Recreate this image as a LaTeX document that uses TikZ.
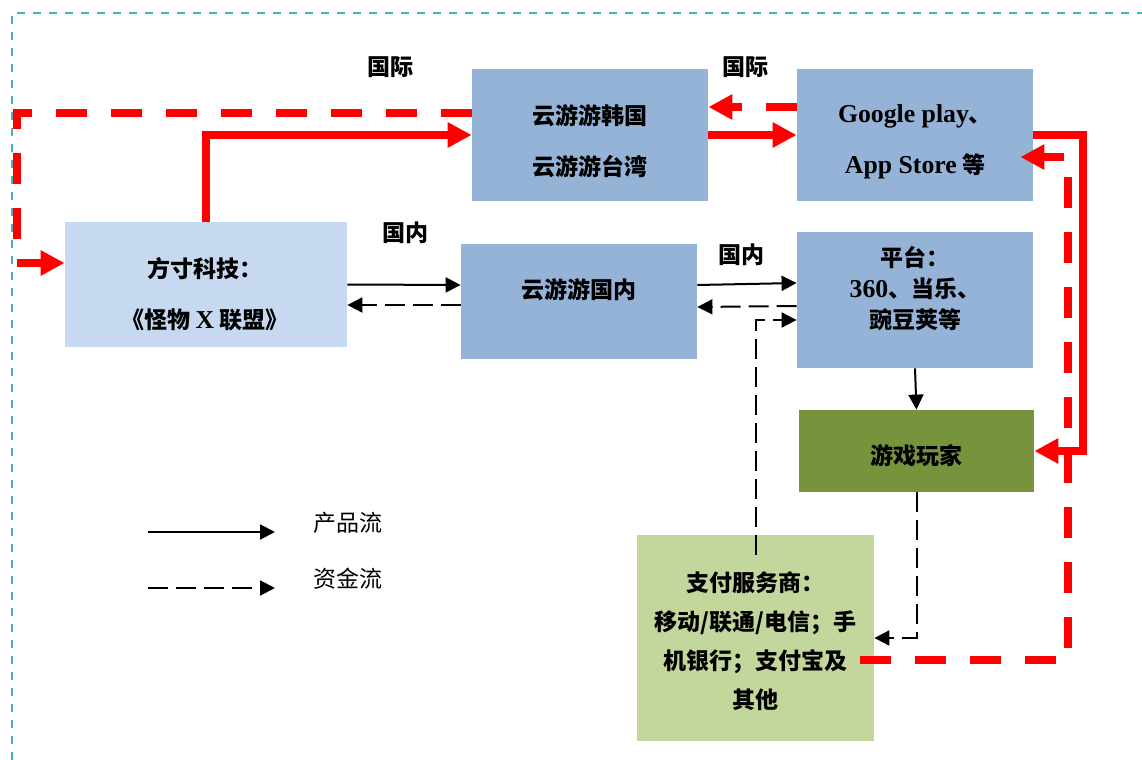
\documentclass[tikz,border=0pt]{standalone}
\usepackage{fontspec}
\setmainfont{Liberation Serif}
\newfontfamily\cjk{Noto Sans CJK SC}
\newfontfamily\latf{Liberation Serif}[Scale=1.12]
\usetikzlibrary{arrows.meta}
\definecolor{ltblue}{HTML}{C6D9F1}
\definecolor{blbox}{HTML}{95B3D7}
\definecolor{grbox}{HTML}{77933C}
\definecolor{ltgreen}{HTML}{C3D69B}
\definecolor{frame}{HTML}{4BACC6}
\newcommand\lat[1]{{\latf #1}}
\begin{document}
\begin{tikzpicture}[x=0.5pt,y=-0.5pt,
  box/.style={inner sep=0pt,draw=none},
  txt/.style={align=center,font=\cjk\bfseries\fontsize{11.5}{25.5}\selectfont},
  legtxt/.style={font=\cjk\fontsize{11.5}{14}\selectfont},
  prod/.style={line width=1pt,-{Triangle[length=7.5pt,width=7.5pt]}},
  money/.style={prod,dash pattern=on 10pt off 4pt},
  rprod/.style={red,line width=4pt,-{Triangle[length=12pt,width=12pt]}},
  rmoney/.style={rprod,dash pattern=on 15.5pt off 12pt},
  border/.style={frame,line width=1pt,dash pattern=on 4pt off 4pt}]
\useasboundingbox (0,0) rectangle (1142,760);
\draw[border] (12,760) -- (12,13) -- (1142,13);
% boxes
\node[box,fill=ltblue,minimum width=141pt,minimum height=62.5pt] (fc) at (206,284.5) {};
\node[box,fill=blbox,minimum width=118pt,minimum height=66pt] (kr) at (590,135) {};
\node[box,fill=blbox,minimum width=118pt,minimum height=66pt] (gp) at (915,135) {};
\node[box,fill=blbox,minimum width=118pt,minimum height=57.5pt] (gn) at (579,301.5) {};
\node[box,fill=blbox,minimum width=118pt,minimum height=68pt] (pt) at (915,300) {};
\node[box,fill=grbox,minimum width=117.5pt,minimum height=41pt] (pl) at (916.5,451) {};
\node[box,fill=ltgreen,minimum width=118.5pt,minimum height=103pt] (pay) at (755.5,638) {};
% texts
\node[txt] (fct) at (205,294) {方寸科技：\\《怪物 \lat{X} 联盟》};
\node[txt] (krt) at (590,141) {云游游韩国\\云游游台湾};
\node[txt] (gpt) at (915,142) {\lat{Google play}、\\\lat{App Store} 等};
\node[txt] (gnt) at (579,290) {云游游国内};
\node[txt,font=\cjk\bfseries\fontsize{11.5}{15.5}\selectfont] (ptt) at (915,289) {平台：\\\lat{360}、当乐、\\豌豆荚等};
\node[txt] (plt) at (916.5,456) {游戏玩家};
\node[txt,font=\cjk\bfseries\fontsize{11.5}{19.5}\selectfont] (payt) at (755.5,641) {支付服务商：\\移动/联通/电信；手\\机银行；支付宝及\\其他};
\node[txt] (l1) at (390,67) {国际};
\node[txt] (l2) at (745,67) {国际};
\node[txt] (l3) at (405,233) {国内};
\node[txt] (l4) at (741,255) {国内};
% red flows
\coordinate (lc) at (17,263);
\coordinate (rc) at (1068,157);
\draw[rprod] (fc.north) |- (kr.west);
\draw[rprod] (kr.east) -- (gp.west);
\draw[rprod] (gp.east) -- ++(25pt,0) |- (pl.east);
\draw[rmoney] ([yshift=14pt]gp.west) -- ([yshift=14pt]kr.east);
\draw[rmoney] ([yshift=11pt]kr.west) -| (lc) -- ([yshift=10.75pt]fc.west);
\draw[rmoney] ([xshift=-7pt,yshift=-11pt]pay.east) -| (rc) -- ([xshift=-6.5pt,yshift=-11pt]gp.east);
% black flows
\draw[prod] (fc.east) -- ([yshift=8.25pt]gn.west);
\draw[money] ([yshift=-1.75pt]gn.west) -- ([yshift=-10.25pt]fc.east);
\draw[prod] ([yshift=8.25pt]gn.east) -- ([yshift=8.5pt]pt.west);
\draw[money] ([yshift=-3pt]pt.west) -- ([yshift=-2.75pt]gn.east);
\draw[money] ([yshift=-10pt]pay.north) |- ([yshift=-10pt]pt.west);
\draw[prod] (pt.south) -- (pl.north);
\draw[money] (pl.south) |- (pay.east);
% legend
\foreach \y/\s/\t [count=\i] in {532/prod/产品流,588/money/资金流}{
  \coordinate (la\i) at (148,\y);
  \coordinate (lb\i) at (275,\y);
  \draw[\s] (la\i) -- (lb\i);
  \node[legtxt] (lt\i) at (348,{\y-9}) {\t};
}
\end{tikzpicture}
\end{document}
